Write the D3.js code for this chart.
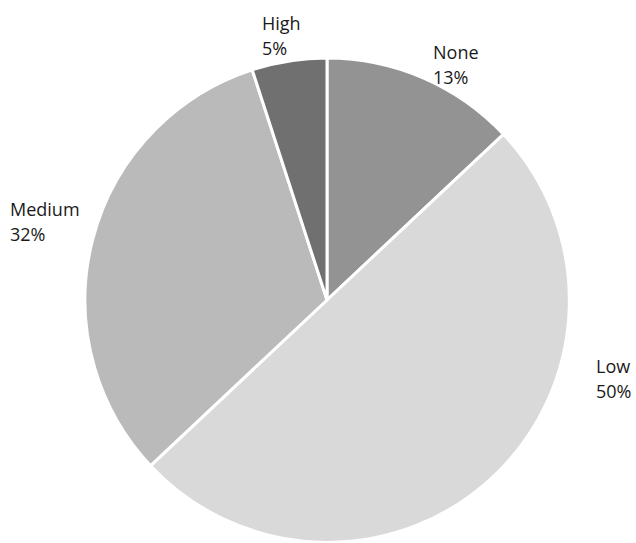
<!DOCTYPE html>
<html><head><meta charset="utf-8">
<script src="https://cdn.jsdelivr.net/npm/d3@7"></script>
<style>body{margin:0;background:#fff}</style>
</head><body>
<svg id="chart" width="636" height="543"></svg>
<script>
const categories = ["None", "Low", "Medium", "High"];
const values = [13, 50, 32, 5];
const colors = ["#939393", "#d9d9d9", "#bababa", "#707070"];

const W = 636, H = 543, cx = 327, cy = 300, R = 242;
// label anchor offsets (relative to pie center), per slice
const labelPos = [[106, -241], [269, 73], [-317, -84], [-65, -270]];

const svg = d3.select("#chart");
const g = svg.append("g").attr("transform", `translate(${cx},${cy})`);
const pie = d3.pie().sort(null).value(d => d)(values);
const arc = d3.arc().innerRadius(0).outerRadius(R);

g.selectAll("path").data(pie).join("path")
  .attr("d", arc)
  .attr("fill", (d, i) => colors[i])
  .attr("stroke", "#fff").attr("stroke-width", 3).attr("stroke-linejoin", "round");

const lab = g.selectAll("text.lbl").data(pie).join("text")
  .attr("class", "lbl")
  .attr("font-family", "'Open Sans', sans-serif")
  .attr("font-size", 18)
  .attr("fill", "#1a1a1a")
  .attr("x", (d, i) => labelPos[i][0])
  .attr("y", (d, i) => labelPos[i][1]);
lab.append("tspan").attr("x", (d, i) => labelPos[i][0]).text((d, i) => categories[i]);
lab.append("tspan").attr("x", (d, i) => labelPos[i][0]).attr("dy", 25).text((d, i) => values[i] + "%");
</script>
</body></html>
